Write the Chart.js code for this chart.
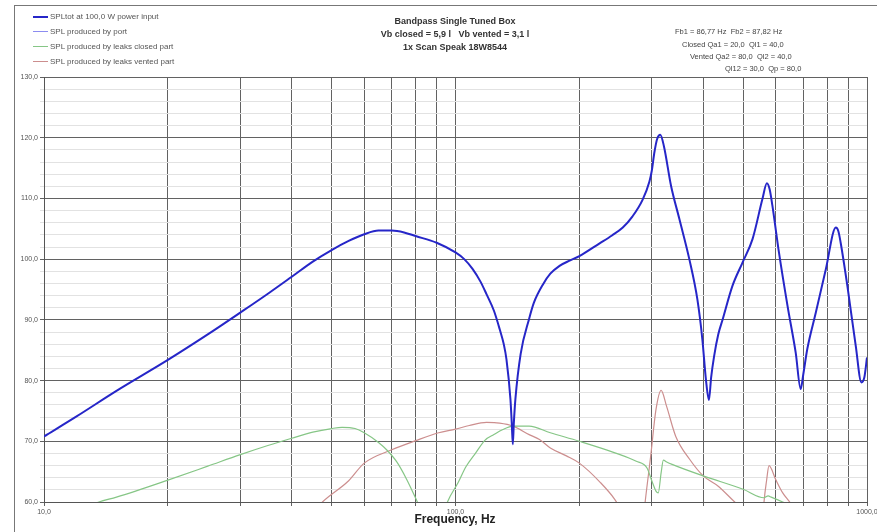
<!DOCTYPE html>
<html>
<head>
<meta charset="utf-8">
<script src="https://cdn.jsdelivr.net/npm/chart.js@4"></script>
<style>
  html, body { margin: 0; padding: 0; background: #fff; }
  #wrap { position: relative; width: 877px; height: 532px; overflow: hidden; font-family: Arial, "Liberation Sans", sans-serif; }
  #frame { position: absolute; left: 14px; top: 5px; width: 900px; height: 600px; border-left: 1px solid #777; border-top: 1px solid #777; }
  canvas { position: absolute; left: 0; top: 0; }
  .leg { position: absolute; left: 33px; font-size: 8px; color: #555; white-space: nowrap; line-height: 10px; }
  .leg i { display: inline-block; width: 15px; vertical-align: middle; margin-right: 2px; }
  .ttl { position: absolute; left: 305px; width: 300px; text-align: center; font-size: 9px; font-weight: bold; color: #333; line-height: 12px; }
  .par { position: absolute; font-size: 7.5px; color: #444; white-space: nowrap; line-height: 10px; }
  #xtitle { position: absolute; left: 355px; width: 200px; top: 512px; text-align: center; font-size: 12px; font-weight: bold; color: #222; }
</style>
</head>
<body>
<div id="wrap">
  <div id="frame"></div>
  <canvas id="c" width="877" height="532"></canvas>
  <div id="legend"></div>
  <div class="ttl" style="top:15px">Bandpass Single Tuned Box</div>
  <div class="ttl" style="top:28px">Vb closed = 5,9 l&nbsp;&nbsp;&nbsp;Vb vented = 3,1 l</div>
  <div class="ttl" style="top:41px">1x Scan Speak 18W8544</div>
  <div class="par" style="left:675px;top:27px">Fb1 = 86,77 Hz&nbsp;&nbsp;Fb2 = 87,82 Hz</div>
  <div class="par" style="left:682px;top:40px">Closed Qa1 = 20,0&nbsp;&nbsp;Ql1 = 40,0</div>
  <div class="par" style="left:690px;top:52px">Vented Qa2 = 80,0&nbsp;&nbsp;Ql2 = 40,0</div>
  <div class="par" style="left:725px;top:64px">Ql12 = 30,0&nbsp;&nbsp;Qp = 80,0</div>
  <div id="xtitle">Frequency, Hz</div>
</div>
<script>
// series names
const seriesNames = ['SPLtot at 100,0 W power input', 'SPL produced by port', 'SPL produced by leaks closed part', 'SPL produced by leaks vented part']

// total SPL
const totFreq = [10, 12, 15, 20, 25, 30, 35, 40, 45, 50, 55, 60, 65, 70, 75, 80, 90, 100, 105, 110, 115, 119, 124, 128, 131, 133, 136, 137, 137.8, 138.6, 139.8, 144, 151, 155, 163, 170, 179, 190, 200, 224, 240, 255, 269, 285, 296, 300, 304, 309, 314.5, 321, 334, 350, 370, 387, 398, 406, 413, 418, 425, 435, 446, 471, 498, 527, 557, 571, 580, 589, 611, 641, 671, 690, 700, 716, 751, 794, 840, 852, 863, 896, 939, 969, 985, 1000]
const totSpl  = [70.8, 74.1, 78.3, 83.4, 87.6, 91.2, 94.3, 97.1, 99.6, 101.5, 103.0, 104.1, 104.7, 104.7, 104.4, 103.8, 102.7, 101.1, 100.0, 98.4, 96.3, 94.2, 91.5, 88.5, 86.0, 83.5, 76.9, 73.0, 69.5, 73.0, 76.9, 84.4, 90.2, 92.8, 95.8, 97.6, 98.9, 99.8, 100.5, 102.6, 103.9, 105.2, 107.0, 109.8, 112.8, 114.6, 117.4, 119.8, 120.5, 118.6, 112.1, 106.6, 100.0, 93.4, 86.8, 80.2, 76.8, 80.5, 84.0, 87.6, 90.1, 95.6, 99.4, 103.3, 109.9, 112.5, 111.5, 108.8, 101.1, 92.3, 84.6, 78.6, 81.0, 85.2, 91.2, 98.3, 105.2, 104.6, 102.7, 95.6, 85.7, 79.7, 80.5, 83.8]

// port SPL (not visible in the plotted range)
const portFreq = []
const portSpl = []

// leaks, closed part
const closedFreq = [12, 13.6, 15, 20, 25, 30, 35, 40, 45, 50, 53, 57, 60, 65, 68, 72, 76, 80.3, 84, 92, 95.6, 101.5, 106, 112, 118, 124, 130, 138, 151, 170, 200, 244, 275, 292, 301, 307, 311, 316, 320, 326, 336, 400, 500, 562, 575, 585, 624, 680]
const closedSpl  = [58.5, 60.0, 60.8, 63.6, 65.9, 67.8, 69.3, 70.5, 71.5, 72.1, 72.3, 72.1, 71.4, 69.8, 68.6, 66.6, 63.8, 60.4, 57.5, 56.5, 60.0, 63.2, 65.8, 68.1, 70.2, 71.1, 71.9, 72.5, 72.5, 71.4, 70.0, 68.1, 66.7, 65.6, 63.2, 61.8, 61.5, 64.8, 66.9, 66.6, 66.2, 64.3, 62.1, 60.7, 61.0, 60.8, 60.0, 58.8]

// leaks, vented part (three separate humps)
const ventedFreq = [44, 47.5, 55, 60, 70, 80, 91, 100, 108, 119, 128, 138, 151, 160, 170, 186, 200, 225, 244, 252, 260, 284, 289, 298, 307, 316, 326, 343, 371, 400, 435, 477, 500, 520, 557, 562, 570, 578, 600, 624, 649, 665]
const ventedSpl  = [57.5, 60.0, 63.5, 66.4, 68.6, 70.1, 71.4, 72.0, 72.6, 73.1, 73.0, 72.5, 71.1, 70.3, 68.9, 67.6, 66.4, 63.2, 60.4, 58.8, null, 55.0, 60.0, 67.5, 75.2, 78.4, 75.7, 70.8, 67.0, 64.3, 62.6, 60.0, 58.8, null, 56.0, 60.0, 63.5, 66.0, 63.7, 61.5, 60.0, 59.0]

// axes
const xTicks = [10, 20, 30, 40, 50, 60, 70, 80, 90, 100, 200, 300, 400, 500, 600, 700, 800, 900, 1000]
const xLabelled = [10, 100, 1000]
const yTicks = []
for (let v = 60; v <= 130; v += 2) yTicks.push(v)

const colors = ['#2626c8', '#8c8cf0', '#86c686', '#cc8e8e']
const widths = [2, 1.2, 1.2, 1.2]

function pts(fs, ss){ return fs.map((f,i) => ({x: f, y: ss[i]})) }
const commaNum = v => v.toFixed(1).replace('.', ',')

// legend as html
const legEl = document.getElementById('legend')
seriesNames.forEach((n,i) => {
  const d = document.createElement('div')
  d.className = 'leg'
  d.style.top = (12 + i*15) + 'px'
  d.innerHTML = `<i style="border-top:${i === 0 ? 2 : 1}px solid ${colors[i]}"></i>${n}`
  legEl.appendChild(d)
})

const datasets = [
  pts(totFreq, totSpl), pts(portFreq, portSpl), pts(closedFreq, closedSpl), pts(ventedFreq, ventedSpl)
].map((data,i) => ({
  label: seriesNames[i], data, borderColor: colors[i], borderWidth: widths[i],
  pointRadius: 0, fill: false, spanGaps: false, clip: 0,
  cubicInterpolationMode: 'monotone', order: i === 0 ? -1 : i
}))

new Chart(document.getElementById('c'), {
  type: 'line',
  data: { datasets },
  options: {
    responsive: false,
    animation: false,
    layout: { padding: { top: 77, right: 10, left: 0, bottom: 0 } },
    plugins: { legend: { display: false }, title: { display: false }, tooltip: { enabled: false } },
    scales: {
      x: {
        type: 'logarithmic', min: 10, max: 1000,
        afterBuildTicks: s => { s.ticks = xTicks.map(v => ({value: v})) },
        afterFit: s => { s.height = 30; s.paddingLeft = 0; s.paddingRight = 0 },
        grid: { color: '#626262', lineWidth: 1, tickLength: 4 },
        border: { color: '#555' },
        ticks: {
          autoSkip: false, maxRotation: 0, padding: 2, color: '#555',
          font: { family: 'Arial', size: 7 },
          callback: v => xLabelled.includes(v) ? commaNum(v) : ''
        }
      },
      y: {
        type: 'linear', min: 60, max: 130,
        afterBuildTicks: s => { s.ticks = yTicks.map(v => ({value: v})) },
        afterFit: s => { s.width = 44; s.paddingTop = 0; s.paddingBottom = 0 },
        grid: {
          color: c => (c.tick && c.tick.value % 10 === 0) ? '#626262' : '#e2e2e2',
          lineWidth: 1, tickLength: 4
        },
        border: { color: '#555' },
        ticks: {
          autoSkip: false, padding: 2, color: '#555',
          font: { family: 'Arial', size: 7 },
          callback: v => v % 10 === 0 ? commaNum(v) : ''
        }
      }
    }
  }
})
</script>
</body>
</html>
